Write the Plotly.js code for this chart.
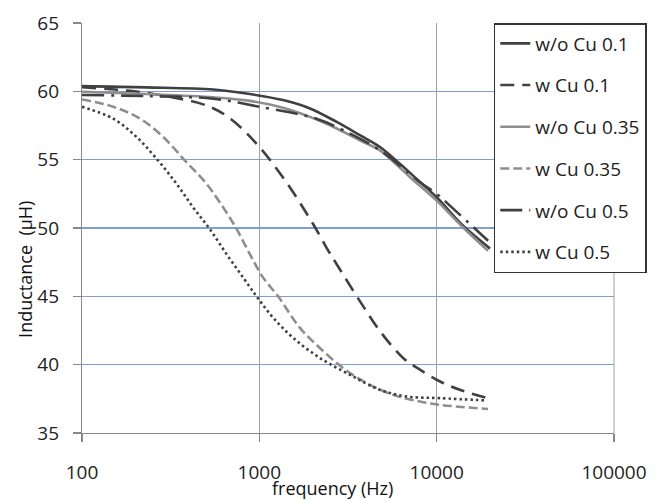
<!DOCTYPE html>
<html>
<head>
<meta charset="utf-8">
<script src="https://cdn.plot.ly/plotly-3.0.1.min.js"></script>
<style>html,body{margin:0;padding:0;background:#fff;}#chart{width:670px;height:502px;}</style>
</head>
<body>
<div id="chart"></div>
<script>
// Series data (frequency in Hz, inductance in µH)
const fWoCu01 = [100, 230, 550, 884, 1360, 1930, 2730, 3690, 4790, 6200, 8000, 10000, 14000, 20000];
const lWoCu01 = [60.38, 60.29, 60.13, 59.8, 59.36, 58.75, 57.76, 56.79, 55.93, 54.7, 53.4, 52.25, 50.2, 48.5];

const fWCu01 = [100, 180, 274, 514, 696, 1000, 1420, 2010, 2390, 2730, 3690, 4790, 6470, 8050, 10450, 13500, 19500];
const lWCu01 = [60.3, 60.05, 59.73, 58.92, 57.94, 55.93, 53.35, 50.29, 48.57, 47.35, 44.65, 42.45, 40.49, 39.63, 38.77, 38.16, 37.55];

const fWoCu035 = [100, 230, 550, 884, 1360, 1930, 2730, 3690, 4790, 5460, 7080, 10000, 14100, 19500];
const lWoCu035 = [59.97, 59.8, 59.56, 59.3, 58.8, 58.13, 57.28, 56.42, 55.68, 55.07, 53.72, 52.0, 50.04, 48.33];

const fWCu035 = [100, 150, 212, 287, 380, 503, 625, 744, 884, 1050, 1276, 1694, 2195, 2970, 4024, 5690, 8050, 10450, 19500];
const lWCu035 = [59.4, 58.87, 58.01, 56.66, 54.95, 53.24, 51.51, 49.93, 48.09, 46.37, 45.0, 42.69, 41.22, 39.75, 38.65, 37.79, 37.3, 37.06, 36.76];

const fWoCu05 = [100, 230, 550, 1000, 2100, 2970, 4790, 8050, 10000, 12170, 19500];
const lWoCu05 = [59.73, 59.65, 59.46, 58.87, 58.0, 57.15, 55.68, 53.35, 52.5, 51.51, 49.07];

const fWCu05 = [100, 150, 203, 268, 341, 423, 525, 653, 811, 977, 1197, 1552, 2195, 3243, 4786, 6775, 10450, 19150];
const lWCu05 = [58.87, 58.0, 56.66, 54.95, 53.24, 51.51, 49.93, 48.09, 46.37, 44.9, 43.43, 41.96, 40.49, 39.26, 38.16, 37.67, 37.55, 37.38];

const seriesNames = ["w/o Cu 0.1", "w Cu 0.1", "w/o Cu 0.35", "w Cu 0.35", "w/o Cu 0.5", "w Cu 0.5"];
const xTickVals = [100, 1000, 10000, 100000];
const xTickText = ["100", "1000", "10000", "100000"];
const yTickVals = [35, 40, 45, 50, 55, 60, 65];
const xTitle = "frequency (Hz)";
const yTitle = "Inductance  (µH)";

const dark = "#404040";
const gray = "#8e8e8e";

function tr(x, y, name, color, dash, group) {
  return {
    x: x, y: y, name: name, type: "scatter", mode: "lines",
    legendgroup: group,
    line: {color: color, width: 2.6, dash: dash, shape: "spline", smoothing: 1},
    hoverinfo: "skip"
  };
}

const data = [
  tr(fWoCu01, lWoCu01, seriesNames[0], dark, "solid", "g1"),
  tr(fWCu01, lWCu01, seriesNames[1], dark, "14px,8px", "g2"),
  tr(fWoCu035, lWoCu035, seriesNames[2], gray, "solid", "g3"),
  tr(fWCu035, lWCu035, seriesNames[3], gray, "9px,4px", "g4"),
  tr(fWoCu05, lWoCu05, seriesNames[4], dark, "22px,7px,3px,7px", "g5"),
  tr(fWCu05, lWCu05, seriesNames[5], dark, "2.5px,3px", "g6")
];

const font = "'Open Sans', 'Noto Sans', sans-serif";

const layout = {
  width: 670, height: 502,
  margin: {l: 82, r: 56, t: 23, b: 69, pad: 0},
  paper_bgcolor: "#ffffff", plot_bgcolor: "#ffffff",
  font: {family: font, size: 19, color: "#222"},
  showlegend: true,
  legend: {
    x: 0.774, y: 1.0, xanchor: "left", yanchor: "top",
    bgcolor: "#ffffff", bordercolor: "#333333", borderwidth: 1.5,
    font: {family: font, size: 19, color: "#222"},
    tracegroupgap: 14, traceorder: "grouped"
  },
  xaxis: {
    type: "log", range: [2, 5],
    tickvals: xTickVals, ticktext: xTickText,
    showgrid: true, gridcolor: "#a0a0a0", gridwidth: 1,
    showline: true, linecolor: "#888888", linewidth: 1.2,
    ticks: "outside", ticklen: 8, tickcolor: "#888888", tickwidth: 1.2,
    ticklabelstandoff: 14,
    zeroline: false, fixedrange: true,
    tickfont: {family: font, size: 19, color: "#222"}
  },
  yaxis: {
    range: [35, 65], tickvals: yTickVals,
    showgrid: true, gridcolor: "#7f9fd0", gridwidth: 1.2,
    showline: true, linecolor: "#888888", linewidth: 1.2,
    ticks: "outside", ticklen: 8, tickcolor: "#888888", tickwidth: 1.2,
    ticklabelstandoff: 10,
    zeroline: false, fixedrange: true,
    tickfont: {family: font, size: 19, color: "#222"}
  },
  shapes: [
    {type: "line", xref: "paper", yref: "paper", x0: 1, x1: 1, y0: 0, y1: 1,
     line: {color: "#a0a0a0", width: 1}, layer: "below"}
  ],
  annotations: [
    {text: yTitle, xref: "paper", yref: "paper", x: -0.107, y: 0.398,
     xanchor: "center", yanchor: "middle", textangle: -90, showarrow: false,
     font: {family: font, size: 18, color: "#111"}},
    {text: xTitle, xref: "paper", yref: "paper", x: 0.47, y: -0.133,
     xanchor: "center", yanchor: "middle", showarrow: false,
     font: {family: font, size: 18, color: "#111"}}
  ]
};

Plotly.newPlot("chart", data, layout, {displayModeBar: false, staticPlot: true});
</script>
</body>
</html>
